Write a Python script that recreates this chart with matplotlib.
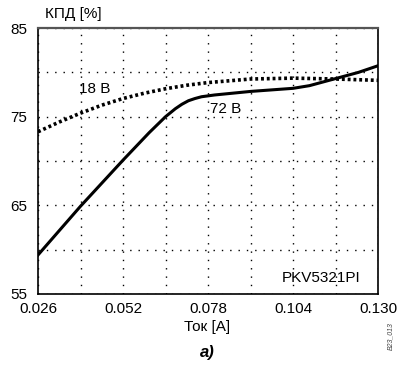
import numpy as np
import matplotlib.pyplot as plt

plt.rcParams['font.family'] = ['Liberation Sans', 'DejaVu Sans']

# current, A / efficiency, %
i_72 = [0.026, 0.039, 0.052, 0.060, 0.065, 0.068, 0.070, 0.072, 0.074, 0.076, 0.080,
        0.091, 0.104, 0.109, 0.113, 0.117, 0.124, 0.130]
eff_72 = [59.4, 64.9, 70.1, 73.2, 75.0, 75.9, 76.4, 76.8, 77.05, 77.25, 77.45,
          77.85, 78.2, 78.5, 78.9, 79.3, 80.0, 80.75]

i_18 = [0.026, 0.0325, 0.039, 0.0455, 0.052, 0.0585, 0.065, 0.0715, 0.078, 0.0845,
        0.091, 0.104, 0.117, 0.130]
eff_18 = [73.3, 74.4, 75.4, 76.3, 77.05, 77.65, 78.15, 78.55, 78.85, 79.05,
          79.25, 79.35, 79.25, 79.1]

xticks = [0.026, 0.052, 0.078, 0.104, 0.130]
xtick_labels = ['0.026', '0.052', '0.078', '0.104', '0.130']
yticks = [55, 65, 75, 85]

fig = plt.figure(figsize=(3.98, 3.69), dpi=100)
ax = fig.add_axes([0.0955, 0.2033, 0.8545, 0.7207])

ax.plot(i_72, eff_72, color='black', lw=2.2, solid_joinstyle='round')
ax.plot(i_18, eff_18, color='black', lw=2.6, linestyle=(0, (0.8, 0.8)))

ax.set_xlim(0.026, 0.130)
ax.set_ylim(55, 85)
ax.set_xticks(xticks)
ax.set_xticklabels(xtick_labels)
ax.set_yticks(yticks)
ax.set_xticks(np.arange(0.039, 0.13, 0.026), minor=True)
ax.set_yticks([60, 70, 80], minor=True)
ax.grid(True, which='both', color='black', lw=1.0, linestyle=(0, (1, 5)))
ax.tick_params(which='both', length=0, labelsize=11)
ax.tick_params(axis='x', pad=6)
ax.tick_params(axis='y', pad=8)

for s in ['left', 'bottom', 'right']:
    ax.spines[s].set_linewidth(1.2)
ax.spines['top'].set_linewidth(1.6)
ax.spines['top'].set_color('#555555')

fig.text(0.113, 0.962, 'КПД [%]', fontsize=11, ha='left', va='center')
ax.text(0.0385, 78.1, '18 В', fontsize=11, ha='left', va='center')
ax.text(0.0785, 75.9, '72 В', fontsize=11, ha='left', va='center')
ax.text(0.1245, 56.8, 'PKV5321PI', fontsize=11, ha='right', va='center')
fig.text(0.52, 0.114, 'Ток [A]', fontsize=11, ha='center', va='center')
fig.text(0.52, 0.046, 'a)', fontsize=12, fontweight='bold', style='italic', ha='center', va='center')
fig.text(0.982, 0.09, 'B23_013', fontsize=5, style='italic', color='#444444',
         rotation=90, ha='center', va='center')

fig.savefig('out.png', dpi=100)
